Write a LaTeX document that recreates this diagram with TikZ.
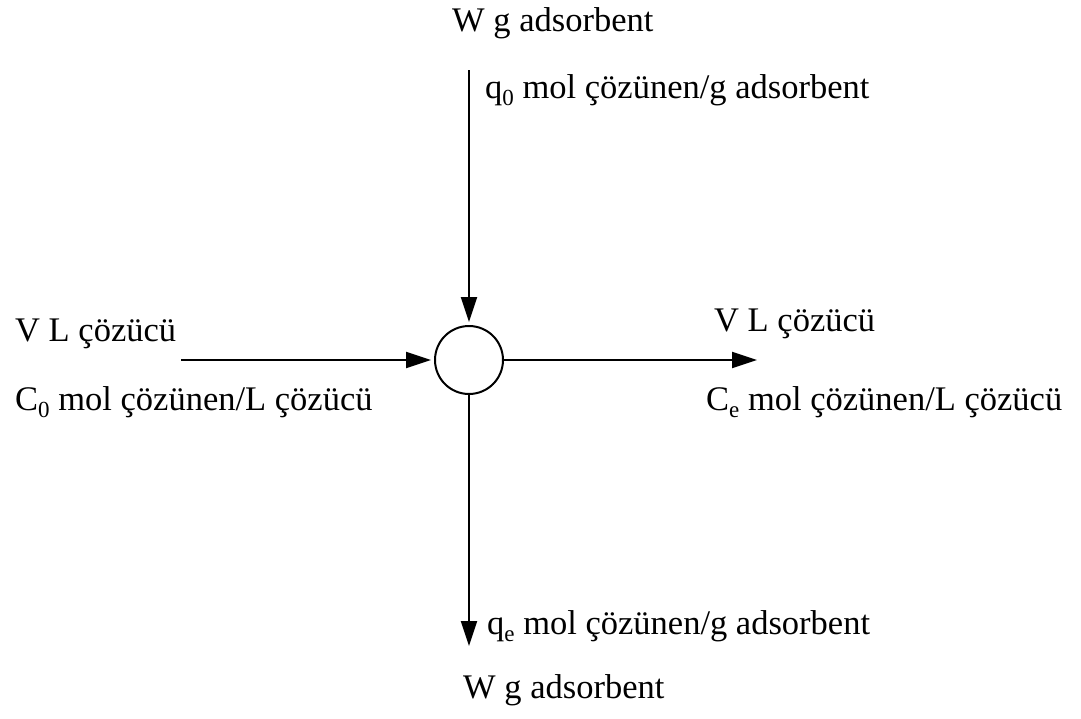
\documentclass[tikz,border=0pt]{standalone}
\usepackage{fontspec}
\setmainfont{Liberation Serif}
\usetikzlibrary{arrows.meta}
% lowered subscript in the running text font
\newcommand{\lowidx}[1]{\raisebox{-0.22em}{\fontsize{23}{23}\selectfont #1}}
\begin{document}
\begin{tikzpicture}[x=1pt,y=-1pt,
  flow/.style={line width=2pt,-{Triangle[length=25pt,width=16pt]},shorten >=3pt},
  lbl/.style={anchor=base west,inner sep=0pt,font=\fontsize{34.5}{40}\selectfont},
  vessel/.style={circle,draw,line width=2pt,minimum size=68pt,inner sep=0pt}]
\useasboundingbox (0,0) rectangle (1081,718);

\node[vessel] (c) at (469,360) {};

\coordinate (tin) at (469,70);
\coordinate (lin) at (181,360);
\coordinate (rout) at (757,360);
\coordinate (bout) at (469,646);

\draw[flow] (tin) -- (c.north);
\draw[flow] (lin) -- (c.west);
\draw[flow,shorten >=0pt] (c.east) -- (rout);
\draw[flow,shorten >=0pt] (c.south) -- (bout);

\node[lbl] (wtop) at (452,31) {W g adsorbent};
\node[lbl] (q0) at (485,98) {q\lowidx{0} mol çözünen/g adsorbent};
\node[lbl] (vl) at (15,341) {V L çözücü};
\node[lbl] (c0) at (15,410) {C\lowidx{0} mol çözünen/L çözücü};
\node[lbl] (vr) at (714,331) {V L çözücü};
\node[lbl] (ce) at (706,410) {C\lowidx{e} mol çözünen/L çözücü};
\node[lbl] (qe) at (487,634) {q\lowidx{e} mol çözünen/g adsorbent};
\node[lbl] (wbot) at (463,698) {W g adsorbent};
\end{tikzpicture}
\end{document}
